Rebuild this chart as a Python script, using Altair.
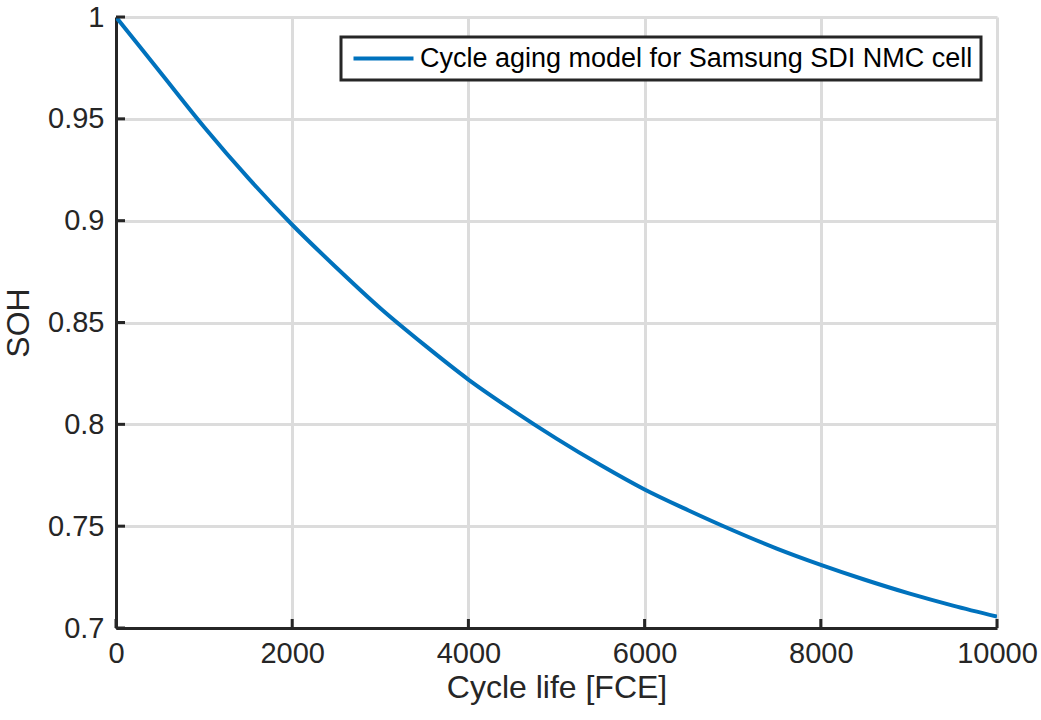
import altair as alt
import pandas as pd

cycles = [0, 500, 1000, 1500, 2000, 2500, 3000, 3500, 4000, 4500, 5000,
          5500, 6000, 6500, 7000, 7500, 8000, 8500, 9000, 9500, 10000]
soh = [1.0, 0.973, 0.946, 0.921, 0.898, 0.877, 0.857, 0.839, 0.822, 0.807, 0.793,
       0.780, 0.768, 0.7577, 0.748, 0.739, 0.731, 0.7237, 0.717, 0.711, 0.7056]
series_name = "Cycle aging model for Samsung SDI NMC cell"
x_ticks = [0, 2000, 4000, 6000, 8000, 10000]
y_ticks = [0.7, 0.75, 0.8, 0.85, 0.9, 0.95, 1.0]

W, H = 881, 611
FONT = "Liberation Sans"
AX = "#262626"

df = pd.DataFrame({"x": cycles, "y": soh, "s": [series_name] * len(cycles)})
xt = pd.DataFrame({"x": x_ticks})
yt = pd.DataFrame({"y": y_ticks})

xscale = alt.Scale(domain=[0, 10000], nice=False)
yscale = alt.Scale(domain=[0.7, 1.0], nice=False, zero=False)

line = alt.Chart(df).mark_line(strokeWidth=4, interpolate="monotone", clip=True).encode(
    x=alt.X("x:Q", scale=xscale,
            axis=alt.Axis(values=x_ticks, title="Cycle life [FCE]", format="d",
                          grid=True, gridColor="#dcdcdc", gridWidth=3,
                          domainColor=AX, domainWidth=3, ticks=False,
                          labelFlush=False, labelPadding=11, titlePadding=4)),
    y=alt.Y("y:Q", scale=yscale,
            axis=alt.Axis(values=y_ticks, title="SOH",
                          labelExpr="datum.value == 1 ? '1' : datum.value == 0.7 ? '0.7' : format(datum.value, '.2~f')",
                          grid=True, gridColor="#dcdcdc", gridWidth=3,
                          domainColor=AX, domainWidth=3, ticks=False,
                          labelFlush=False, labelPadding=12, titlePadding=12)),
    color=alt.Color("s:N", scale=alt.Scale(range=["#0072BD"]),
                    legend=alt.Legend(title=None, orient="none", legendX=225, legendY=20,
                                      symbolType="M-0.9,0H5.1", symbolSize=400,
                                      symbolStrokeWidth=4, labelFontSize=27,
                                      labelFont=FONT, labelColor="#000000",
                                      labelOffset=44,
                                      fillColor="white", strokeColor=AX,
                                      padding=8, labelLimit=800)),
)

xticks = alt.Chart(xt).mark_rule(color=AX, strokeWidth=3).encode(
    x=alt.X("x:Q", scale=xscale), y=alt.value(H), y2=alt.value(H - 9))
yticks = alt.Chart(yt).mark_rule(color=AX, strokeWidth=3).encode(
    y=alt.Y("y:Q", scale=yscale), x=alt.value(0), x2=alt.value(9))

chart = alt.layer(line, xticks, yticks).properties(
    width=W, height=H,
    padding={"left": 116, "top": 17, "right": 44, "bottom": 92},
    autosize=alt.AutoSizeParams(type="none"),
    background="white",
).configure_view(stroke=None).configure_axis(
    labelFont=FONT, labelFontSize=29, labelColor=AX,
    titleFont=FONT, titleFontSize=32, titleColor=AX, titleFontWeight="normal",
).configure_legend(strokeWidth=3)

chart.save("out.html", embed_options={"renderer": "svg", "actions": False})
